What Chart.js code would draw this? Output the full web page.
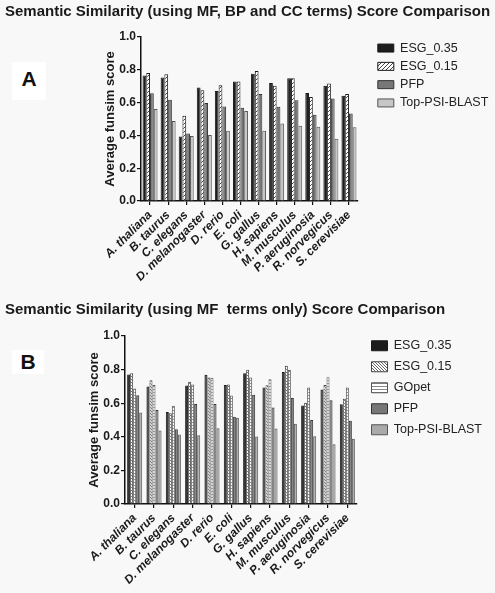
<!DOCTYPE html>
<html>
<head>
<meta charset="utf-8">
<script src="https://cdn.jsdelivr.net/npm/chart.js@4"></script>
<style>
    body { margin: 0; background: #f8f8f8; width: 495px; height: 593px; overflow: hidden; position: relative; font-family: 'Liberation Sans', Arial, sans-serif; }
    canvas { position: absolute; left: 0; }
    #chartA { top: 0; }
    #chartB { top: 293px; }
    .panel-tag { position: absolute; background: #fff; font-weight: bold; font-size: 21px; color: #111; text-align: center; }
</style>
</head>
<body>
<div class="panel-tag" style="left:12px; top:62px; width:34px; height:38px; line-height:34px;">A</div>
<div class="panel-tag" style="left:12px; top:350px; width:32px; height:24px; line-height:24px;">B</div>
<canvas id="chartA" width="495" height="296"></canvas>
<canvas id="chartB" width="495" height="300"></canvas>
<script>
const categories = ['A. thaliana', 'B. taurus', 'C. elegans', 'D. melanogaster', 'D. rerio', 'E. coli',
    'G. gallus', 'H. sapiens', 'M. musculus', 'P. aeruginosia', 'R. norvegicus', 'S. cerevisiae'];
const yTicks = [0, 0.2, 0.4, 0.6, 0.8, 1.0];

// panel A : MF, BP and CC terms
const esg035A = [0.765, 0.753, 0.394, 0.692, 0.671, 0.729, 0.776, 0.719, 0.748, 0.658, 0.703, 0.642];
const esg015A = [0.780, 0.773, 0.520, 0.676, 0.706, 0.729, 0.793, 0.703, 0.748, 0.634, 0.716, 0.653];
const pfpA = [0.657, 0.618, 0.412, 0.598, 0.576, 0.569, 0.652, 0.575, 0.614, 0.526, 0.625, 0.533];
const blastA = [0.561, 0.488, 0.397, 0.402, 0.429, 0.549, 0.429, 0.473, 0.459, 0.453, 0.380, 0.450];

// panel B : MF terms only
const esg035B = [0.771, 0.700, 0.547, 0.706, 0.769, 0.709, 0.779, 0.694, 0.785, 0.587, 0.682, 0.594];
const esg015B = [0.779, 0.737, 0.540, 0.727, 0.753, 0.711, 0.799, 0.707, 0.823, 0.602, 0.709, 0.627];
const gopetB = [0.688, 0.708, 0.585, 0.711, 0.751, 0.646, 0.753, 0.742, 0.797, 0.694, 0.755, 0.694];
const pfpB = [0.648, 0.559, 0.445, 0.595, 0.595, 0.520, 0.650, 0.574, 0.631, 0.500, 0.617, 0.496];
const blastB = [0.545, 0.437, 0.413, 0.409, 0.451, 0.514, 0.402, 0.450, 0.478, 0.404, 0.355, 0.388];

const FONT = "'Liberation Sans', Arial, sans-serif";

// small tiles used as bar fills
function makePattern(size, draw) {
    const c = document.createElement('canvas');
    c.width = size;
    c.height = size;
    const g = c.getContext('2d');
    g.fillStyle = '#fff';
    g.fillRect(0, 0, size, size);
    draw(g, size);
    return g.createPattern(c, 'repeat');
}

const hatchUp = makePattern(4, (g, s) => {
    g.strokeStyle = '#444';
    g.lineWidth = 1;
    g.beginPath();
    g.moveTo(-1, s + 1); g.lineTo(s + 1, -1);
    g.moveTo(-1, 1); g.lineTo(1, -1);
    g.moveTo(s - 1, s + 1); g.lineTo(s + 1, s - 1);
    g.stroke();
});
const hatchDown = makePattern(3, (g, s) => {
    g.fillStyle = '#666';
    for (let i = 0; i < s; i++) g.fillRect(i, i, 1, 1);
});
const stripes = makePattern(3, (g, s) => {
    g.fillStyle = '#888';
    g.fillRect(0, 0, s, 1);
});

function bars(label, data, fill, border) {
    return {
        label: label,
        data: data,
        backgroundColor: fill,
        borderColor: border || '#1a1a1a',
        borderWidth: 1,
        borderSkipped: 'bottom',
    };
}

// put the legend where the figure has it
function legendSpot(width, left, top) {
    return {
        id: 'legendSpot',
        beforeInit(chart) {
            const fit = chart.legend.fit;
            chart.legend.fit = function () {
                fit.call(this);
                this.width = width;
            };
        },
        afterLayout(chart) {
            const lg = chart.legend;
            const h = lg.height;
            lg.left = left;
            lg.right = left + width;
            lg.top = top;
            lg.bottom = top + h;
        },
    };
}

function makeOptions(p) {
    return {
        responsive: false,
        animation: false,
        layout: { padding: { left: 5, right: 0, top: 0, bottom: 0 } },
        datasets: { bar: { barPercentage: 1.0, categoryPercentage: p.catPct } },
        plugins: {
            title: {
                display: true,
                text: p.title,
                align: 'start',
                color: '#1a1a1a',
                font: { family: FONT, size: 15, weight: 'bold' },
                padding: { top: p.titleTop, bottom: p.titleBottom },
            },
            legend: {
                position: 'right',
                align: 'start',
                fullSize: false,
                labels: {
                    boxWidth: 16,
                    boxHeight: p.boxH,
                    padding: p.legendGap,
                    color: '#222',
                    font: { family: FONT, size: 12.5 },
                },
            },
            tooltip: { enabled: false },
        },
        scales: {
            x: {
                offset: true,
                grid: { drawOnChartArea: false, offset: false, tickLength: 4, color: '#111', lineWidth: 1.2 },
                border: { color: '#111', width: 1.5 },
                ticks: {
                    autoSkip: false,
                    maxRotation: 45,
                    minRotation: 45,
                    padding: 3,
                    color: '#1a1a1a',
                    font: { family: FONT, size: 12, weight: 'bold', style: 'italic' },
                },
                afterFit(scale) {
                    scale.height = p.xHeight;
                },
            },
            y: {
                min: 0,
                max: 1.0,
                afterBuildTicks(scale) {
                    scale.ticks = yTicks.map((v) => ({ value: v }));
                },
                grid: { drawOnChartArea: false, tickLength: 4, color: '#111', lineWidth: 1.2 },
                border: { color: '#111', width: 1.5 },
                ticks: {
                    padding: 1,
                    color: '#1a1a1a',
                    font: { family: FONT, size: 12, weight: 'bold' },
                    callback: (v) => v.toFixed(1),
                },
                title: {
                    display: true,
                    text: 'Average funsim score',
                    color: '#1a1a1a',
                    font: { family: FONT, size: 13, weight: 'bold' },
                    padding: { top: p.yTitlePad, bottom: 0 },
                },
                afterFit(scale) {
                    scale.width = p.yWidth;
                },
            },
        },
    };
}

new Chart(document.getElementById('chartA'), {
    type: 'bar',
    data: {
        labels: categories,
        datasets: [
            bars('ESG_0.35', esg035A, '#1c1c1c'),
            bars('ESG_0.15', esg015A, hatchUp),
            bars('PFP', pfpA, '#777777', '#333'),
            bars('Top-PSI-BLAST', blastA, '#c6c6c6', '#555'),
        ],
    },
    options: makeOptions({
        title: 'Semantic Similarity (using MF, BP and CC terms) Score Comparison',
        titleTop: 3, titleBottom: 16,
        catPct: 0.83, boxH: 8, legendGap: 5.8,
        xHeight: 95, yWidth: 136, yTitlePad: 98,
    }),
    plugins: [legendSpot(137, 372, 36)],
});

new Chart(document.getElementById('chartB'), {
    type: 'bar',
    data: {
        labels: categories,
        datasets: [
            bars('ESG_0.35', esg035B, '#1c1c1c'),
            bars('ESG_0.15', esg015B, hatchDown, '#444'),
            bars('GOpet', gopetB, stripes, '#555'),
            bars('PFP', pfpB, '#777777', '#333'),
            bars('Top-PSI-BLAST', blastB, '#aaaaaa', '#555'),
        ],
    },
    options: makeOptions({
        title: 'Semantic Similarity (using MF  terms only) Score Comparison',
        titleTop: 8, titleBottom: 17,
        catPct: 0.78, boxH: 10, legendGap: 8.5,
        xHeight: 89, yWidth: 120, yTitlePad: 82,
    }),
    plugins: [legendSpot(138, 363, 38)],
});
</script>
</body>
</html>
